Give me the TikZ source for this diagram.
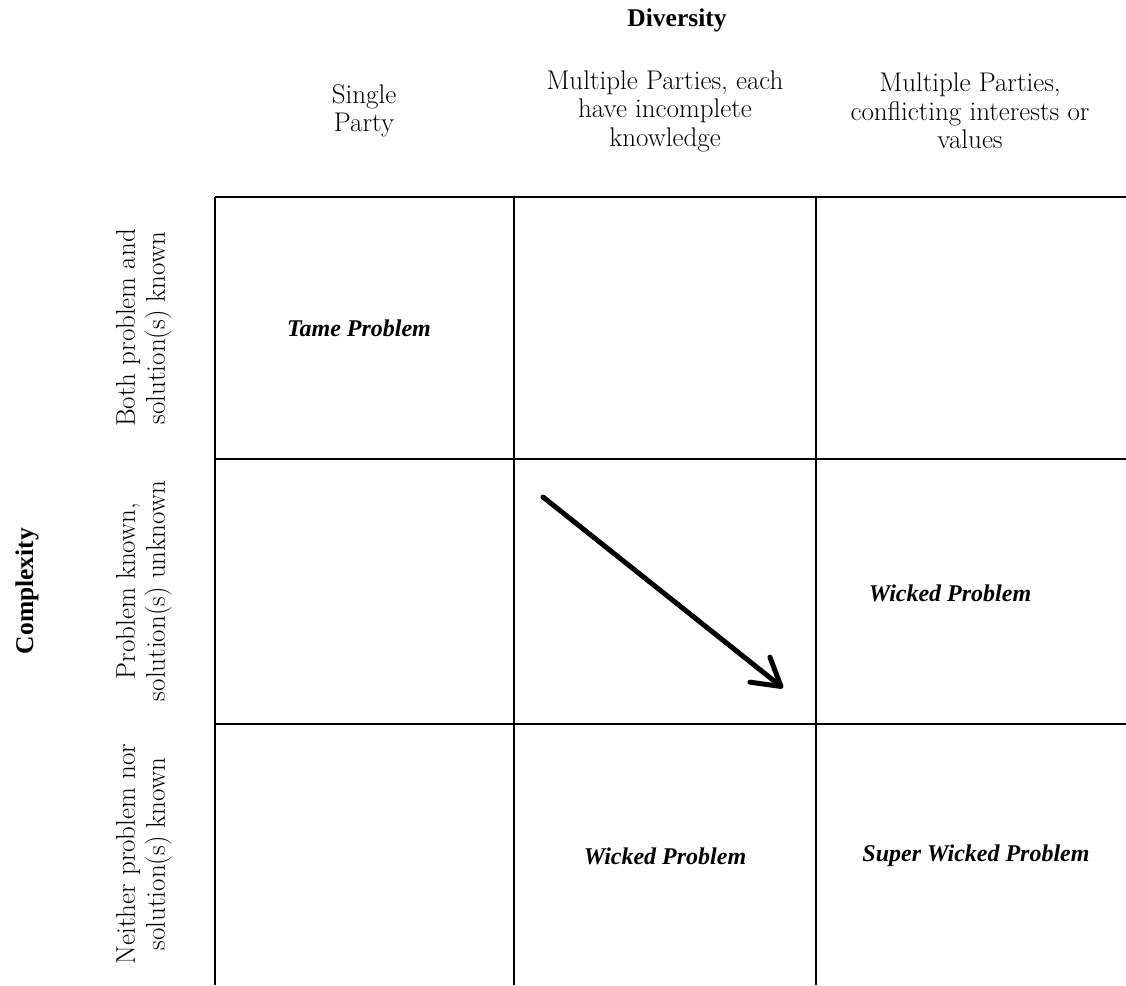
\documentclass[tikz,border=0pt]{standalone}
\usepackage{fontspec}
\newfontfamily\labelfont{Liberation Serif}
\usetikzlibrary{arrows.meta}
\begin{document}
\begin{tikzpicture}[x=1pt,y=-1pt,
  gridline/.style={line width=2pt},
  hdr/.style={align=center,font=\fontsize{27}{28.5}\selectfont},
  axis/.style={font=\labelfont\fontsize{25.5}{30}\selectfont\bfseries},
  cell/.style={font=\labelfont\fontsize{24}{28}\selectfont\bfseries\itshape},
  rowlbl/.style={align=center,rotate=90,font=\fontsize{27}{30}\selectfont},
  trend/.style={line width=5pt,line cap=round,
    -{Straight Barb[length=27pt,width=32pt,round]}}]
\useasboundingbox (0,0) rectangle (1126,985);

% matrix grid (open at right and bottom)
\draw[gridline] (215,197) -- (1126,197);
\draw[gridline] (215,459) -- (1126,459);
\draw[gridline] (215,724) -- (1126,724);
\draw[gridline] (215,197) -- (215,985);
\draw[gridline] (514,197) -- (514,985);
\draw[gridline] (816,197) -- (816,985);

% axis titles
\node[axis] (div) at (677,20) {Diversity};
\node[axis,rotate=90] (cpx) at (27,591) {Complexity};

% column headings
\node[hdr] (c1) at (364,111) {Single\\Party};
\node[hdr] (c2) at (665,111) {Multiple Parties, each\\have incomplete\\knowledge};
\node[hdr] (c3) at (970,111) {Multiple Parties,\\conflicting interests or\\values};

% row headings
\node[rowlbl] (r1) at (144,328) {Both problem and\\solution(s) known};
\node[rowlbl] (r2) at (144,591) {Problem known,\\solution(s) unknown};
\node[rowlbl] (r3) at (144,854) {Neither problem nor\\solution(s) known};

% cell entries
\node[cell] (tame) at (359,328) {Tame Problem};
\node[cell] (wick1) at (950,593) {Wicked Problem};
\node[cell] (wick2) at (665,856) {Wicked Problem};
\node[cell] (super) at (976,856) {Super Wicked Problem};

% trend arrow
\coordinate (from) at (543,497);
\coordinate (to) at (783,688);
\draw[trend] (from) -- (to);
\end{tikzpicture}
\end{document}
